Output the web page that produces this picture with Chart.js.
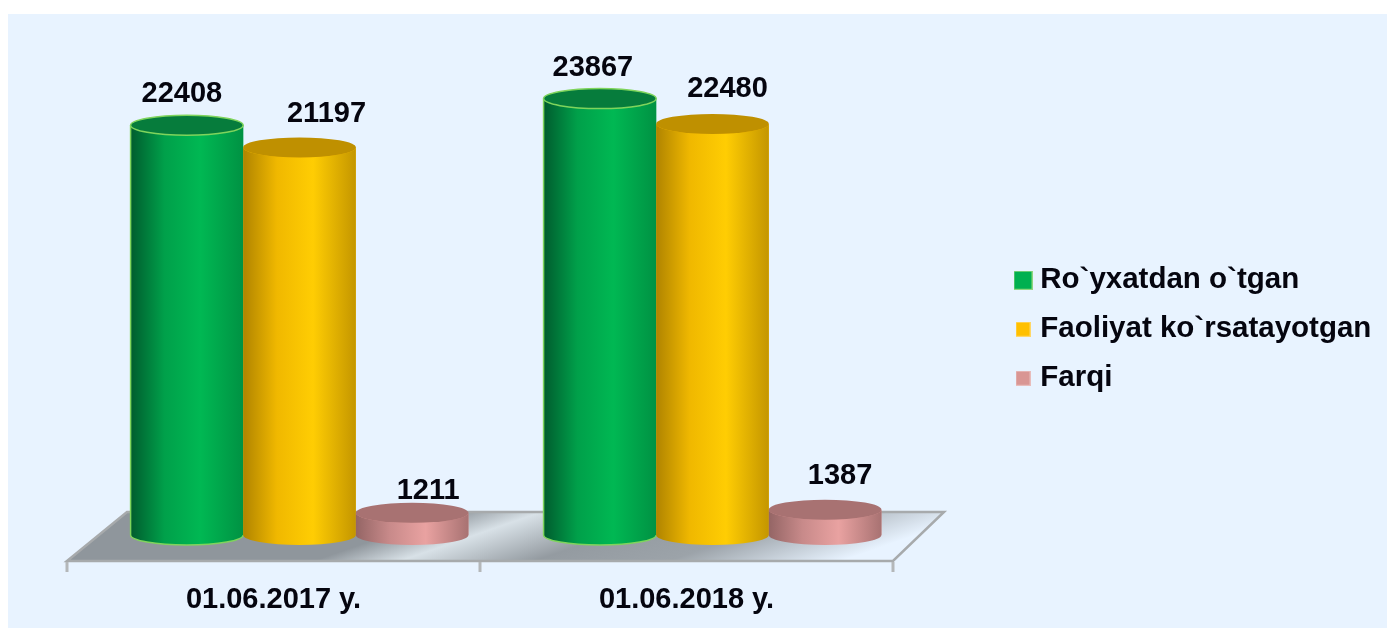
<!DOCTYPE html>
<html>
<head>
<meta charset="utf-8">
<title>Chart</title>
<script src="https://cdn.jsdelivr.net/npm/chart.js@4"></script>
<style>
html, body { margin: 0; padding: 0; background: #fff; overflow: hidden; }
#panel { position: absolute; left: 8px; top: 14px; right: 0; bottom: 0; background: #e8f3ff; }
#chart { position: absolute; left: 0; top: 0; }
</style>
</head>
<body>
<div id="panel"></div>
<canvas id="chart" width="1387" height="628"></canvas>
<script>
const categories = ["01.06.2017 y.", "01.06.2018 y."];
const registered = [22408, 23867];
const active = [21197, 22480];
const difference = [1211, 1387];

const seriesNames = ["Ro`yxatdan o`tgan", "Faoliyat ko`rsatayotgan", "Farqi"];
const seriesColors = ["#00b050", "#ffc000", "#d99694"];

// cylinder shades: edge, shoulder, highlight, far edge, lid
const shades = [
    ["#005c2e", "#00a04a", "#00b853", "#009243", "#067c3c"],
    ["#b08400", "#f0b800", "#ffcd03", "#c49600", "#bf9000"],
    ["#946565", "#c88a8a", "#e9a2a1", "#a87272", "#a87272"]
];

// data labels were moved by hand in the original: [dx, dy] per series, per category
const labelShift = [
    [[-5, -31], [-7, -31]],
    [[27, -33], [15, -35]],
    [[16, -22], [15, -34]]
];

const FONT = "'Liberation Sans', Arial, sans-serif";
const EDGE = "#a7aaac";

function makeSwatch(size, color, rim) {
    const c = document.createElement("canvas");
    c.width = c.height = size;
    const g = c.getContext("2d");
    g.fillStyle = rim || color;
    g.fillRect(0, 0, size, size);
    g.fillStyle = color;
    g.fillRect(1, 1, size - 2, size - 2);
    return c;
}

const swatches = [
    makeSwatch(19, seriesColors[0], "#8fd67f"),
    makeSwatch(15, seriesColors[1], "#ffd766"),
    makeSwatch(15, seriesColors[2], "#e8bcbb")
];

const floorPlugin = {
    id: "floor",
    beforeDatasetsDraw(chart) {
        const { ctx, chartArea: a } = chart;
        const frontY = a.bottom + 26, backY = a.bottom - 23;
        const fl = a.left - 26, fr = a.right - 26;
        const bl = a.left + 34, br = a.right + 25;

        const grad = ctx.createLinearGradient(100, 527, 193, 795);
        grad.addColorStop(0, "#8f969c");
        grad.addColorStop(0.36, "#8f969c");
        grad.addColorStop(0.46, "#d8e1e7");
        grad.addColorStop(0.615, "#949ba1");
        grad.addColorStop(0.77, "#9ca3a9");
        grad.addColorStop(0.97, "#e8f3ff");

        ctx.save();
        ctx.beginPath();
        ctx.moveTo(fl, frontY);
        ctx.lineTo(bl, backY);
        ctx.lineTo(br, backY);
        ctx.lineTo(fr, frontY);
        ctx.closePath();
        ctx.fillStyle = grad;
        ctx.fill();
        ctx.strokeStyle = EDGE;
        ctx.lineWidth = 2.5;
        ctx.stroke();

        // ticks under the front edge
        const step = (fr - fl) / categories.length;
        ctx.lineWidth = 3;
        ctx.strokeStyle = "#b4b7b9";
        for (let i = 0; i <= categories.length; i++) {
            ctx.beginPath();
            ctx.moveTo(fl + step * i, frontY + 1);
            ctx.lineTo(fl + step * i, frontY + 11);
            ctx.stroke();
        }
        ctx.restore();
    }
};

function drawCylinder(ctx, bar, shade, rim) {
    const left = bar.x - bar.width / 2, right = bar.x + bar.width / 2;
    const rx = bar.width / 2, ry = 10;

    const grad = ctx.createLinearGradient(left, 0, right, 0);
    grad.addColorStop(0, shade[0]);
    grad.addColorStop(0.3, shade[1]);
    grad.addColorStop(0.62, shade[2]);
    grad.addColorStop(1, shade[3]);

    ctx.beginPath();
    ctx.moveTo(left, bar.y);
    ctx.lineTo(left, bar.base);
    ctx.ellipse(bar.x, bar.base, rx, ry, 0, Math.PI, 0, true);
    ctx.lineTo(right, bar.y);
    ctx.ellipse(bar.x, bar.y, rx, ry, 0, 0, Math.PI, false);
    ctx.closePath();
    ctx.fillStyle = grad;
    ctx.fill();
    if (rim) {
        ctx.strokeStyle = rim;
        ctx.lineWidth = 1.5;
        ctx.beginPath();
        ctx.moveTo(left, bar.y);
        ctx.lineTo(left, bar.base);
        ctx.ellipse(bar.x, bar.base, rx, ry, 0, Math.PI, 0, true);
        ctx.stroke();
    }

    ctx.beginPath();
    ctx.ellipse(bar.x, bar.y, rx, ry, 0, 0, Math.PI * 2);
    ctx.fillStyle = shade[4];
    ctx.fill();
    if (rim) ctx.stroke();
}

const cylinderPlugin = {
    id: "cylinders",
    afterDatasetsDraw(chart) {
        const { ctx } = chart;
        ctx.save();
        chart.data.datasets.forEach((ds, i) => {
            chart.getDatasetMeta(i).data.forEach(bar => {
                drawCylinder(ctx, bar, shades[i], i === 0 ? "#7fd45c" : null);
            });
        });

        ctx.font = "bold 29px " + FONT;
        ctx.fillStyle = "#05050f";
        ctx.textAlign = "center";
        ctx.textBaseline = "middle";
        chart.data.datasets.forEach((ds, i) => {
            chart.getDatasetMeta(i).data.forEach((bar, j) => {
                const s = labelShift[i][j];
                ctx.fillText(ds.data[j], bar.x + s[0], bar.y + s[1]);
            });
        });
        ctx.restore();
    },
    afterLayout(chart) {
        // the legend sits in the free space right of the floor
        const lg = chart.legend;
        lg.left = 1001;
        lg.top = 246;
        lg.right = 1387;
        lg.bottom = 628;
    }
};

new Chart(document.getElementById("chart"), {
    type: "bar",
    data: {
        labels: categories,
        datasets: [
            { label: seriesNames[0], data: registered, backgroundColor: seriesColors[0] },
            { label: seriesNames[1], data: active, backgroundColor: seriesColors[1] },
            { label: seriesNames[2], data: difference, backgroundColor: seriesColors[2] }
        ]
    },
    options: {
        responsive: false,
        animation: false,
        layout: { padding: { left: 93, right: 468, top: 23, bottom: 0 } },
        datasets: { bar: { categoryPercentage: 0.818, barPercentage: 1 } },
        scales: {
            x: {
                grid: { display: false },
                border: { display: false },
                ticks: {
                    color: "#05050f",
                    font: { family: FONT, size: 29, weight: "bold" },
                    padding: 40,
                    labelOffset: -26,
                    maxRotation: 0
                },
                afterFit(scale) { scale.height = 93; }
            },
            y: { display: false, min: 0, max: 28000 }
        },
        plugins: {
            tooltip: { enabled: false },
            legend: {
                position: "chartArea",
                align: "start",
                labels: {
                    color: "#05050f",
                    font: { family: FONT, size: 29.5, weight: "bold" },
                    usePointStyle: true,
                    pointStyleWidth: 5,
                    padding: 19.5,
                    generateLabels: chart => chart.data.datasets.map((ds, i) => ({
                        text: ds.label,
                        fontColor: "#05050f",
                        pointStyle: swatches[i],
                        datasetIndex: i
                    }))
                }
            }
        }
    },
    plugins: [floorPlugin, cylinderPlugin]
});
</script>
</body>
</html>
